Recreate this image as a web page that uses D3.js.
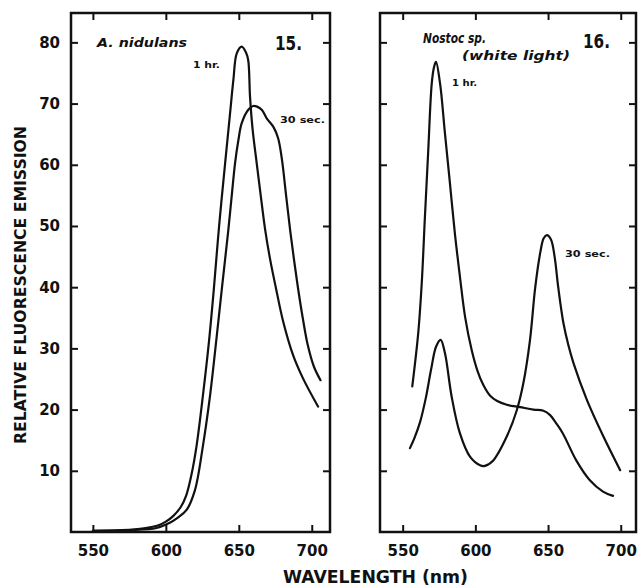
<!DOCTYPE html>
<html>
<head>
<meta charset="utf-8">
<script src="https://cdn.jsdelivr.net/npm/d3@7"></script>
<style>
  body { margin: 0; background: #fff; }
  text { font-family: "DejaVu Sans", sans-serif; font-weight: bold; fill: #111; }
</style>
</head>
<body>
<div id="chart-area"></div>
<script>
// wavelength ticks and intensity ticks
const xTicks = [550, 600, 650, 700]
const yTicks = [10, 20, 30, 40, 50, 60, 70, 80]

// Fig. 15, A. nidulans
const nid1hrWl = [550, 570, 585, 595, 600, 605, 610, 614, 617.5, 621, 625.5, 629.5, 633, 636.5, 640.6, 644, 646.3, 648.6, 652, 655, 656.5, 657.7, 659.5, 662.3, 665.7, 668, 671.5, 675.5, 680.4, 687.2, 694, 704.3]
const nid1hrVal = [0.2, 0.3, 0.6, 1.1, 1.7, 2.6, 4, 6, 9.3, 14, 22.5, 31, 40, 50, 60.2, 68.4, 73.9, 78.2, 79.3, 78.3, 77, 71.1, 65.7, 60.2, 53.7, 49.5, 44.5, 39.8, 34.4, 28.9, 25.1, 20.5]
const nid30sWl = [550, 575, 593.6, 602.7, 608, 614.2, 619.9, 625.5, 630.1, 634.7, 638.5, 642.8, 645.1, 647.4, 649.7, 652, 656.5, 659.9, 662.5, 665.7, 669.1, 673.7, 677, 679.6, 682.4, 685.1, 688, 690.8, 693.8, 697.3, 701.5, 706]
const nid30sVal = [0.2, 0.3, 0.65, 1.5, 2.3, 3.6, 6.8, 14.2, 21.9, 31.6, 40, 49.3, 54.8, 60.2, 64, 66.8, 69, 69.6, 69.5, 69, 67.6, 66.2, 64.3, 60.8, 55, 49.5, 44.2, 39.5, 35, 30.5, 27, 24.8]

// Fig. 16, Nostoc sp. (white light)
const nos1hrWl = [556.6, 560.7, 563.1, 565.3, 567.6, 570, 571.6, 572.9, 575.7, 579.1, 582.5, 585.9, 589.4, 592.9, 597.5, 601.5, 605.5, 610, 615, 621.6, 630.8, 640, 646.8, 651.4, 655.5, 660.2, 669.4, 678.6, 687.8, 694.7]
const nos1hrVal = [23.8, 32.5, 40.6, 51.5, 62.4, 73.3, 76, 76.8, 73.3, 65.1, 57, 48.8, 41.7, 35.2, 29.7, 26.3, 24, 22.3, 21.4, 20.8, 20.4, 20, 19.8, 19.1, 17.8, 16.1, 11.7, 8.5, 6.6, 5.9]
const nos30sWl = [555, 558, 562, 566, 569.5, 573, 576.1, 579.1, 583.7, 589.4, 596.3, 603.2, 606.6, 612.3, 621.6, 628.5, 633, 637.6, 641.1, 644.6, 647, 649.2, 652, 654.5, 657, 660.6, 664, 667.5, 676.7, 688.1, 699.6]
const nos30sVal = [13.7, 15.3, 18, 22, 26.5, 30.3, 31.4, 29.2, 22.1, 16.1, 12.3, 10.9, 10.8, 11.7, 15.6, 19.9, 24.3, 31.4, 39.8, 45.6, 48, 48.5, 47.8, 45, 40, 34.1, 30.5, 27.6, 21.6, 15.6, 10.1]

const W = 642, H = 587
const TOP = 13, BOTTOM = 532
const TICK = 7

const svg = d3.select("#chart-area").append("svg")
  .attr("width", W)
  .attr("height", H)

const y = d3.scaleLinear()
  .domain([0, 84.8])
  .range([BOTTOM, TOP])

const zip = (xs, ys) => xs.map((d, i) => [d, ys[i]])

function panel(left, right, domain, showY, series, notes) {
  const x = d3.scaleLinear().domain(domain).range([left, right])
  const g = svg.append("g")

  const line = d3.line()
    .x(d => x(d[0]))
    .y(d => y(d[1]))
    .curve(d3.curveCatmullRom.alpha(0.5))

  series.forEach(s => {
    g.append("path")
      .attr("d", line(s))
      .attr("fill", "none")
      .attr("stroke", "#111")
      .attr("stroke-width", 2.2)
      .attr("stroke-linejoin", "round")
      .attr("stroke-linecap", "round")
  })

  // frame with inward ticks on all four sides
  g.append("rect")
    .attr("x", left).attr("y", TOP)
    .attr("width", right - left).attr("height", BOTTOM - TOP)
    .attr("fill", "none")
    .attr("stroke", "#111")
    .attr("stroke-width", 2.5)

  g.append("g")
    .attr("transform", `translate(0, ${BOTTOM})`)
    .call(d3.axisBottom(x).tickValues(xTicks).tickSizeInner(-TICK).tickSizeOuter(0).tickPadding(13))
    .call(a => a.select(".domain").remove())
    .call(a => a.selectAll("line").attr("stroke-width", 2).attr("stroke", "#111"))
    .call(a => a.selectAll("text").attr("font-size", 15).attr("font-family", "DejaVu Sans").attr("fill", "#111"))

  g.append("g")
    .attr("transform", `translate(0, ${TOP})`)
    .call(d3.axisTop(x).tickValues(xTicks).tickSizeInner(-TICK).tickSizeOuter(0).tickFormat(""))
    .call(a => a.select(".domain").remove())
    .call(a => a.selectAll("line").attr("stroke-width", 2).attr("stroke", "#111"))

  g.append("g")
    .attr("transform", `translate(${left}, 0)`)
    .call(d3.axisLeft(y).tickValues(yTicks).tickSizeInner(-TICK).tickSizeOuter(0).tickPadding(11)
      .tickFormat(showY ? d3.format("d") : ""))
    .call(a => a.select(".domain").remove())
    .call(a => a.selectAll("line").attr("stroke-width", 2).attr("stroke", "#111"))
    .call(a => a.selectAll("text").attr("font-size", 15).attr("font-family", "DejaVu Sans").attr("fill", "#111"))

  g.append("g")
    .attr("transform", `translate(${right}, 0)`)
    .call(d3.axisRight(y).tickValues(yTicks).tickSizeInner(-TICK).tickSizeOuter(0).tickFormat(""))
    .call(a => a.select(".domain").remove())
    .call(a => a.selectAll("line").attr("stroke-width", 2).attr("stroke", "#111"))

  notes.forEach(n => {
    g.append("text")
      .attr("x", n.x).attr("y", n.y)
      .attr("font-size", n.size)
      .attr("font-style", n.italic ? "italic" : "normal")
      .attr("textLength", n.len || null)
      .attr("lengthAdjust", "spacingAndGlyphs")
      .text(n.t)
  })
}

panel(71, 330, [535, 712.5], true,
  [zip(nid1hrWl, nid1hrVal), zip(nid30sWl, nid30sVal)],
  [
    { t: "A. nidulans", x: 97, y: 47, size: 12, italic: true, len: 90 },
    { t: "15.", x: 275, y: 50, size: 20, len: 27 },
    { t: "1 hr.", x: 193, y: 68, size: 9, len: 27 },
    { t: "30 sec.", x: 280, y: 123, size: 9, len: 45 }
  ])

panel(380, 636, [534.4, 710.5], false,
  [zip(nos1hrWl, nos1hrVal), zip(nos30sWl, nos30sVal)],
  [
    { t: "Nostoc  sp.", x: 423, y: 43, size: 14, italic: true, len: 63 },
    { t: "(white light)", x: 462, y: 60, size: 12, italic: true, len: 108 },
    { t: "16.", x: 583, y: 48, size: 20, len: 27 },
    { t: "1 hr.", x: 452, y: 86, size: 9, len: 25 },
    { t: "30 sec.", x: 565, y: 257, size: 9, len: 45 }
  ])

// axis titles
svg.append("text")
  .attr("transform", "translate(26, 285) rotate(-90)")
  .attr("text-anchor", "middle")
  .attr("font-size", 15)
  .attr("textLength", 318)
  .attr("lengthAdjust", "spacingAndGlyphs")
  .text("RELATIVE FLUORESCENCE EMISSION")

svg.append("text")
  .attr("x", 283)
  .attr("y", 583)
  .attr("font-size", 17)
  .attr("textLength", 185)
  .attr("lengthAdjust", "spacingAndGlyphs")
  .text("WAVELENGTH (nm)")
</script>
</body>
</html>
